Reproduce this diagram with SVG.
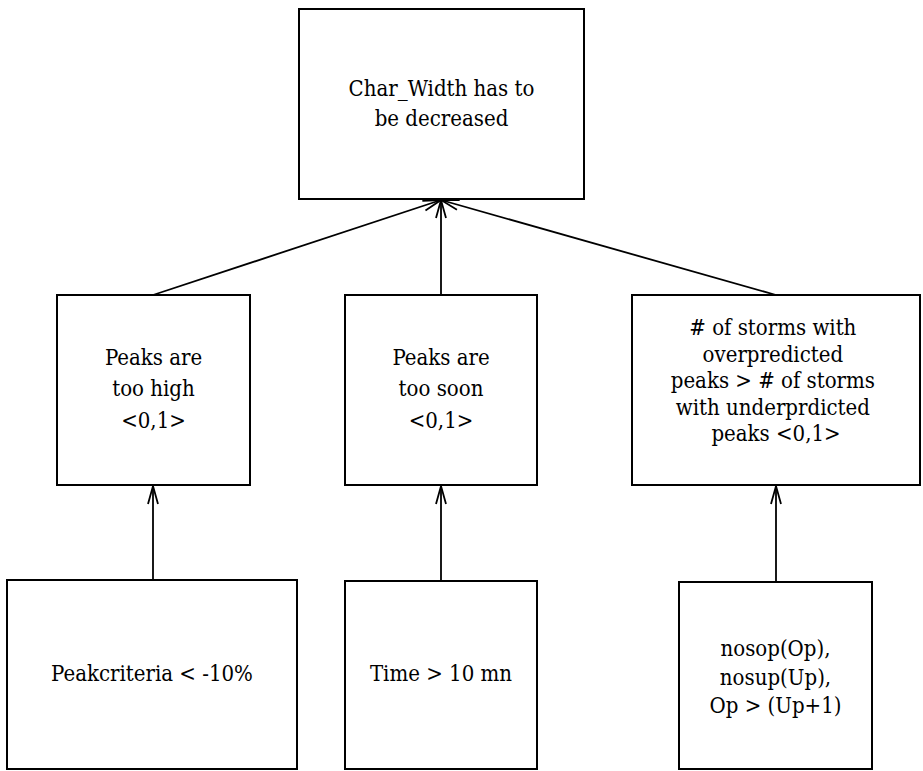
<svg xmlns="http://www.w3.org/2000/svg" width="923" height="771" viewBox="0 0 923 771">
<style>
.box{fill:#fff;stroke:#000;stroke-width:2}
.t{font-family:'DejaVu Serif Condensed','DejaVu Serif',serif;font-stretch:condensed;font-size:22px;fill:#000;text-anchor:middle}
.c{stroke:#000;stroke-width:1.8;fill:none;marker-end:url(#ah)}
</style>
<defs>
<marker id="ah" markerUnits="userSpaceOnUse" markerWidth="24" markerHeight="14" refX="0" refY="0" viewBox="-20 -7 22 14" orient="auto" overflow="visible">
<path d="M -18 -5 L 0 0 L -18 5" fill="none" stroke="#000" stroke-width="1.8"/>
</marker>
</defs>
<rect width="923" height="771" fill="#fff"/>
<g id="connectors">
<line class="c" x1="153" y1="295" x2="441" y2="200"/>
<line class="c" x1="441" y1="295" x2="441" y2="200"/>
<line class="c" x1="776" y1="295" x2="441" y2="200"/>
<line class="c" x1="153" y1="580" x2="153" y2="486"/>
<line class="c" x1="441" y1="580" x2="441" y2="486"/>
<line class="c" x1="776" y1="581" x2="776" y2="486"/>
</g>
<g id="n_top">
<rect class="box" x="299" y="9" width="285" height="190"/>
<text class="t" x="441.5" y="96">Char_Width has to</text>
<text class="t" x="441.5" y="126">be decreased</text>
</g>
<g id="n_high">
<rect class="box" x="57" y="295" width="193" height="190"/>
<text class="t" x="153.5" y="365">Peaks are</text>
<text class="t" x="153.5" y="396">too high</text>
<text class="t" x="153.5" y="428">&lt;0,1&gt;</text>
</g>
<g id="n_soon">
<rect class="box" x="345" y="295" width="192" height="190"/>
<text class="t" x="441" y="365">Peaks are</text>
<text class="t" x="441" y="396">too soon</text>
<text class="t" x="441" y="428">&lt;0,1&gt;</text>
</g>
<g id="n_storms">
<rect class="box" x="632" y="295" width="288" height="190"/>
<text class="t" x="776" y="335">
<tspan x="776" y="335"># of storms with</tspan>
<tspan x="776" y="361.5">overpredicted</tspan>
<tspan x="776" y="388">peaks &gt; # of storms</tspan>
<tspan x="776" y="414.5">with underprdicted</tspan>
<tspan x="776" y="441">peaks &lt;0,1&gt;</tspan>
</text>
</g>
<g id="n_peakcrit">
<rect class="box" x="7" y="580" width="290" height="189"/>
<text class="t" x="152" y="681">Peakcriteria &lt; -10%</text>
</g>
<g id="n_time">
<rect class="box" x="345" y="581" width="192" height="188"/>
<text class="t" x="441" y="681">Time &gt; 10 mn</text>
</g>
<g id="n_nosop">
<rect class="box" x="679" y="582" width="193" height="187"/>
<text class="t" x="775.5" y="656">nosop(Op),</text>
<text class="t" x="775.5" y="685">nosup(Up),</text>
<text class="t" x="775.5" y="713">Op &gt; (Up+1)</text>
</g>
</svg>
